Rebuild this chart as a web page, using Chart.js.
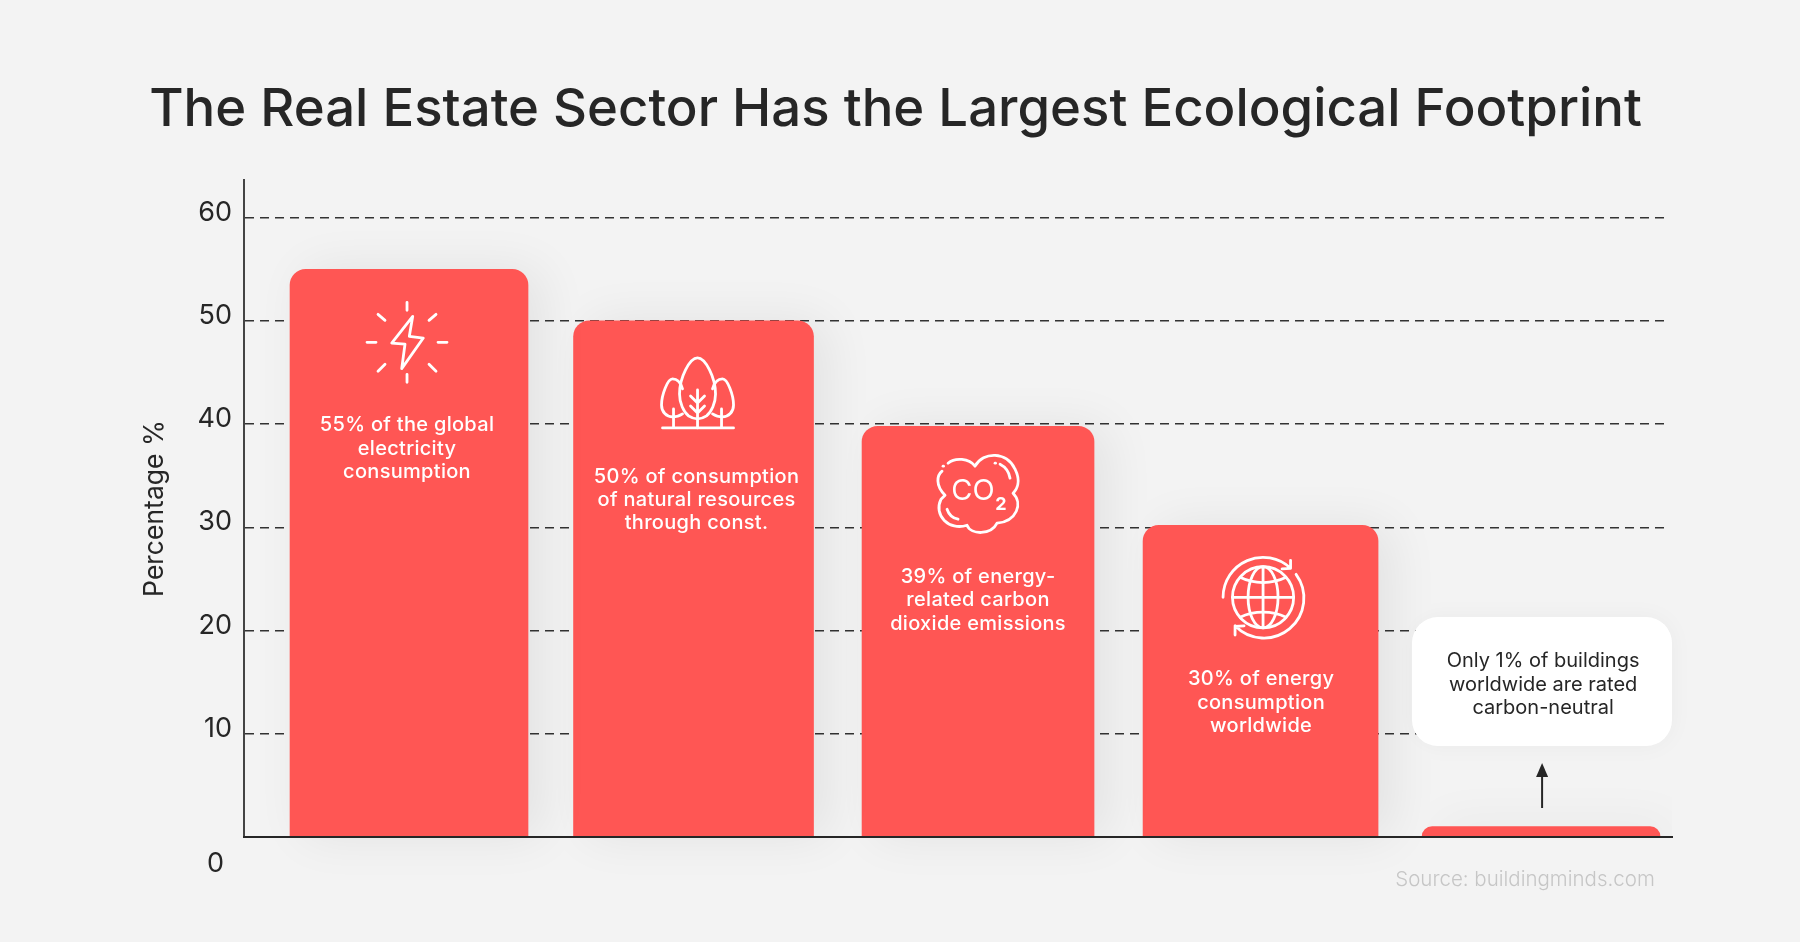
<!DOCTYPE html>
<html>
<head>
<meta charset="utf-8">
<title>Ecological footprint</title>
<script src="https://cdn.jsdelivr.net/npm/chart.js@4"></script>
<style>
  html, body { margin: 0; background: #f3f3f3; }
  canvas { display: block; }
</style>
</head>
<body>
<canvas id="footprint_chart" width="1800" height="942"></canvas>
<script>
// the data
var categories = ["Electricity", "Natural resources", "Carbon dioxide", "Energy", "Carbon-neutral buildings"];
var shares = [55, 50, 39.8, 30.2, 1];
var yTicks = [0, 10, 20, 30, 40, 50, 60];
var barNotes = [
  ["55% of the global", "electricity", "consumption"],
  ["50% of consumption", "of natural resources", "through const."],
  ["39% of energy-", "related carbon", "dioxide emissions"],
  ["30% of energy", "consumption", "worldwide"]
];
var calloutNote = ["Only 1% of buildings", "worldwide are rated", "carbon-neutral"];
var sourceNote = "Source: buildingminds.com";

// bars are not quite evenly spaced or sized in the picture
var slotPositions = [0, 1, 2, 2.993, 3.979];
var barWidths = [238, 240, 232, 235, 238];
var noteShiftX = [-2, 3, 0, 0.5];
var noteShiftY = [156, 156, 151, 154];
var iconShiftX = [-2, 4, 1, 2.5];
var iconShiftY = [73, 72, 67, 72];

var red = "#ff5654";
var ink = "#262626";
var bodyFont = "Inter, sans-serif";

// icons, drawn around their own centre
var iconPaths = [
  ["M5.7,-26 L-15.3,0.7 L-2,1.7 L-5.3,26.3 L16.3,-4.3 L2.3,-6 Z",
   "M0,-40 L0,-32 M0,32 L0,40 M-40,0 L-31,0 M31,0 L40,0",
   "M-29,-28 L-22,-22 M29,-28 L22,-22 M-29,29 L-22,22 M29,29 L22,22"],
  ["M-9,23 C-14,19 -18,10 -18,1 C-18,-15 -8,-35 0,-35 C8,-35 18,-15 18,1 C18,10 14,19 9,23 C3,27 -3,27 -9,23",
   "M0,-3 L0,35 M-7,3 L0,10 L7,3 M-7,13 L0,20 L7,13",
   "M-15,-4 C-17,-11 -21,-14 -25,-14 C-30,-14 -36,2 -36,12 C-36,19 -31,24 -25,24 C-22,24 -18,23 -15,21",
   "M15,-4 C17,-11 21,-14 25,-14 C30,-14 36,2 36,12 C36,19 31,24 25,24 C22,24 18,23 15,21",
   "M-24,16 L-24,35 M24,16 L24,35 M-35,35 L36,35"],
  ["M-31,-30 C-24,-36 -10,-35 -4,-27 C4,-42 28,-42 36,-24 C42,-12 38,-4 34,0 C44,10 38,28 18,30 C12,42 -8,42 -12,32 C-30,38 -46,22 -38,6 L-34,2 C-44,-8 -42,-18 -37,-22",
   "M21,-29 C27,-26 30,-21 31,-15", "M16,-30 L16.5,-30", "M-36,-27 L-35.5,-27",
   "M-32,16 C-30,22 -26,25 -21,26"],
  ["M-30.6,0 A30.6,30.6 0 1 1 30.6,0 A30.6,30.6 0 1 1 -30.6,0",
   "M0,-30.6 A15,30.6 0 0 1 0,30.6 A15,30.6 0 0 1 0,-30.6 M0,-30.6 L0,30.6 M-30.6,0 L30.6,0",
   "M-23,-20 C-9,-13 9,-13 23,-20 M-23,20 C-9,13 9,13 23,20",
   "M-40,0 A40,40 0 0 1 27.5,-29 M27.5,-37 L27.5,-29 L19,-28.5",
   "M33,-23 A40,40 0 0 1 -28,28.5 M-28,37.7 L-28,29 L-19,28.5"]
];

function drawLines(ctx, lines, x, y, step) {
  lines.forEach(function(line, i) {
    ctx.fillText(line, x, y + i * step);
  });
}

var softShadow = {
  id: "softShadow",
  beforeDatasetDraw: function(chart) {
    var ctx = chart.ctx;
    ctx.save();
    ctx.shadowColor = "rgba(0,0,0,0.07)";
    ctx.shadowBlur = 50;
    ctx.shadowOffsetX = 14;
  },
  afterDatasetDraw: function(chart) {
    chart.ctx.restore();
  }
};

// the 0 sits below the axis and the rest a bit above their grid lines
var tickNudge = {
  id: "tickNudge",
  beforeDraw: function(chart) {
    // title is centred on the page, not on the padded box
    chart.titleBlock.right = 1791;
    // axis line runs a little past the dashes
    chart.scales.x.right = 1672;
    var y = chart.scales.y;
    y.getLabelItems().forEach(function(item, i) {
      var value = y.ticks[i].value;
      var pos = y.getPixelForValue(value);
      if (value === 0) {
        item.options.translation[0] = 224;
        item.options.translation[1] = pos + 27;
      } else {
        item.options.translation[1] = pos - 5;
      }
    });
  }
};

var annotate = {
  id: "annotate",
  afterDraw: function(chart) {
    var ctx = chart.ctx;
    ctx.save();
    ctx.textAlign = "center";
    ctx.textBaseline = "middle";

    barNotes.forEach(function(lines, i) {
      var bar = chart.getDatasetMeta(i).data[0];
      var cx = bar.x + iconShiftX[i];
      var cy = bar.y + iconShiftY[i];

      ctx.save();
      ctx.translate(cx, cy);
      ctx.strokeStyle = "#fff";
      ctx.lineWidth = 2.8;
      ctx.lineCap = "round";
      ctx.lineJoin = "round";
      iconPaths[i].forEach(function(d) {
        ctx.stroke(new Path2D(d));
      });
      ctx.restore();

      ctx.fillStyle = "#fff";
      if (i === 2) {
        ctx.font = "400 29px " + bodyFont;
        ctx.fillText("CO", cx - 6, cy - 2);
        ctx.font = "700 18px " + bodyFont;
        ctx.fillText("2", cx + 22, cy + 11);
      }
      ctx.font = "500 20px " + bodyFont;
      ctx.letterSpacing = "0.3px";
      drawLines(ctx, lines, bar.x + noteShiftX[i], bar.y + noteShiftY[i], 23.2);
      ctx.letterSpacing = "0px";
    });

    // white callout with the arrow pointing up from the last bar
    var last = chart.getDatasetMeta(4).data[0];
    ctx.save();
    ctx.shadowColor = "rgba(0,0,0,0.04)";
    ctx.shadowBlur = 24;
    ctx.fillStyle = "#fff";
    ctx.beginPath();
    ctx.roundRect(1412, 617, 260, 129, 26);
    ctx.fill();
    ctx.restore();

    ctx.fillStyle = ink;
    ctx.font = "400 20px " + bodyFont;
    drawLines(ctx, calloutNote, last.x + 2, 661, 23.5);

    ctx.strokeStyle = ink;
    ctx.lineWidth = 2;
    ctx.beginPath();
    ctx.moveTo(last.x + 1, 808);
    ctx.lineTo(last.x + 1, 772);
    ctx.stroke();
    ctx.beginPath();
    ctx.moveTo(last.x + 1, 763);
    ctx.lineTo(last.x + 7, 777);
    ctx.lineTo(last.x - 5, 777);
    ctx.closePath();
    ctx.fill();

    ctx.fillStyle = "#c6c6c6";
    ctx.font = "300 20.5px " + bodyFont;
    ctx.fillText(sourceNote, 1525, 880);
    ctx.restore();
  }
};

var ctr = document.getElementById("footprint_chart");

var myBarChart = new Chart(ctr, {
  type: "bar",
  data: {
    datasets: categories.map(function(name, i) {
      var isStub = shares[i] < 5;
      return {
        label: name,
        data: [{ x: slotPositions[i], y: shares[i] }],
        barThickness: barWidths[i],
        grouped: false,
        // the stub starts under the axis so its corners can stay round, the clip hides the rest
        base: isStub ? -shares[i] : 0,
        clip: isStub ? 0 : false,
        backgroundColor: red,
        borderRadius: { topLeft: 16, topRight: 16, bottomLeft: 0, bottomRight: 0 },
        borderSkipped: false
      };
    })
  },
  options: {
    responsive: false,
    animation: false,
    devicePixelRatio: 1,
    layout: { padding: { left: 0, right: 136, top: 0, bottom: 105 } },
    plugins: {
      legend: { display: false },
      tooltip: { enabled: false },
      title: {
        display: true,
        text: "The Real Estate Sector Has the Largest Ecological Footprint",
        color: ink,
        font: { family: bodyFont, size: 52.7, weight: "500", lineHeight: 1.2 },
        padding: { top: 79, bottom: 37.7 }
      }
    },
    scales: {
      x: {
        type: "linear",
        offset: false,
        min: -0.58,
        max: 4.411,
        afterFit: function(scale) { scale.height = 0; },
        grid: { display: false },
        ticks: { display: false },
        border: { color: ink, width: 2, z: 1 }
      },
      y: {
        min: 0,
        max: 63.66,
        afterBuildTicks: function(scale) {
          scale.ticks = yTicks.map(function(v) { return { value: v }; });
        },
        afterFit: function(scale) { scale.width = 244; },
        grid: { color: "#333", lineWidth: 1.5, tickLength: 0 },
        border: { color: "#444", width: 2, dash: [9, 6] },
        ticks: {
          color: ink,
          padding: 12,
          font: { family: bodyFont, size: 27, weight: "400" }
        },
        title: {
          display: true,
          text: "Percentage %",
          color: ink,
          font: { family: bodyFont, size: 26.5, weight: "400" },
          padding: { top: 139, bottom: 0 }
        }
      }
    }
  },
  plugins: [softShadow, tickNudge, annotate]
});
</script>
</body>
</html>
